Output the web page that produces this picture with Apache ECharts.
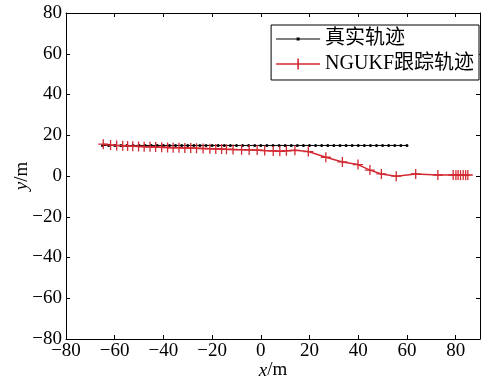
<!DOCTYPE html>
<html>
<head>
<meta charset="utf-8">
<script src="https://cdn.jsdelivr.net/npm/echarts@6/dist/echarts.min.js"></script>
<style>html,body{margin:0;padding:0;background:#fff;}#c{width:481px;height:381px;}</style>
</head>
<body>
<div id="c"></div>
<script>
var trueName = '真实轨迹';
var trackName = 'NGUKF跟踪轨迹';
var trueX = [-65,-62.5,-60,-57.5,-55,-52.5,-50,-47.5,-45,-42.5,-40,-37.5,-35,-32.5,-30,-27.5,-25,-22.5,-20,-17.5,-15,-12.5,-10,-7.5,-5,-2.5,0,2.5,5,7.5,10,12.5,15,17.5,20,22.5,25,27.5,30,32.5,35,37.5,40,42.5,45,47.5,50,52.5,55,57.5,60];
var trueY = [15,15,15,15,15,15,15,15,15,15,15,15,15,15,15,15,15,15,15,15,15,15,15,15,15,15,15,15,15,15,15,15,15,15,15,15,15,15,15,15,15,15,15,15,15,15,15,15,15,15,15];
var trackX = [-64.7,-61.7,-59.2,-56.7,-54.7,-52.6,-50.2,-47.9,-45.5,-43.2,-40.7,-38.3,-36,-33.6,-31.2,-28.8,-26.4,-23.7,-20.9,-18.5,-16.1,-14.1,-11.4,-7.9,-4.8,-1.5,1.6,5.1,7.8,10.5,14,19.5,26.7,33.5,39.9,44.8,49.5,55.6,63.6,72.7,79,80.1,81,82,83.1,84.1,85];
var trackY = [15.6,15.2,15.0,14.9,14.7,14.6,14.5,14.4,14.3,14.2,14.1,14.0,13.9,13.9,13.8,13.7,13.6,13.5,13.4,13.3,13.2,13.1,13.0,12.9,12.8,12.7,12.5,12.3,12.1,12.4,12.6,12.0,9.2,6.9,5.6,2.9,1.0,-0.1,1.0,0.5,0.5,0.4,0.5,0.4,0.5,0.4,0.5];
var xTicks = [-80,-60,-40,-20,0,20,40,60,80];
var yTicks = [-80,-60,-40,-20,0,20,40,60,80];

function pairs(xs, ys){ var o=[]; for(var i=0;i<xs.length;i++){o.push([xs[i],ys[i]]);} return o; }
var FONT = '"Liberation Serif","DejaVu Serif","Noto Sans CJK SC",serif';
function fmt(ticks){ return function(v){ return ticks.indexOf(v) >= 0 ? String(v).replace('-', '\u2212') : ''; }; }
var red = '#d22a32';
var plus = 'path://M5,0L5,10M0,5L10,5';
var iconBlack = 'path://M0,5L44,5L44,6L0,6Z M20.5,4L23.5,4L23.5,7L20.5,7Z';
var iconRed = 'path://M0,4.8L44,4.8L44,6.2L0,6.2Z M21.2,0L22.8,0L22.8,11L21.2,11Z';

var chart = echarts.init(document.getElementById('c'), null, {renderer:'canvas'});
chart.setOption({
  animation: false,
  backgroundColor: '#fff',
  grid: {left: 66, right: 1, top: 13, bottom: 42, outerBoundsMode: 'none', containLabel: false},
  legend: {
    orient: 'vertical', right: 2, top: 25,
    backgroundColor: '#fff', borderColor: '#000', borderWidth: 1,
    padding: [4, 5, 6, 5], itemGap: 5, itemWidth: 44, itemHeight: 11,
    itemStyle: {borderWidth: 0},
    textStyle: {fontFamily: FONT, fontSize: 20, color: '#000'},
    data: [{name: trueName, icon: iconBlack}, {name: trackName, icon: iconRed}]
  },
  xAxis: [{
    type: 'value', min: -80, max: 90, interval: 20, position: 'bottom',
    axisLine: {show: true, onZero: false, lineStyle: {color: '#000', width: 1}},
    axisTick: {show: true, inside: true, length: 4, lineStyle: {color: '#000'}},
    axisLabel: {formatter: fmt(xTicks), fontFamily: FONT, fontSize: 19, color: '#000', margin: 3},
    splitLine: {show: false},
    name: '{i|x}/m', nameLocation: 'middle', nameGap: 22, nameMoveOverlap: false,
    nameTextStyle: {fontFamily: FONT, fontSize: 19, color: '#000', rich: {i: {fontFamily: FONT, fontSize: 19, fontStyle: 'italic', color: '#000'}}}
  }, {
    type: 'value', min: -80, max: 90, interval: 20, position: 'top',
    axisLine: {show: true, onZero: false, lineStyle: {color: '#000', width: 1}},
    axisTick: {show: true, inside: true, length: 4, lineStyle: {color: '#000'}},
    axisLabel: {show: false}, splitLine: {show: false}
  }],
  yAxis: [{
    type: 'value', min: -80, max: 80, interval: 20, position: 'left',
    axisLine: {show: true, onZero: false, lineStyle: {color: '#000', width: 1}},
    axisTick: {show: true, inside: true, length: 4, lineStyle: {color: '#000'}},
    axisLabel: {formatter: fmt(yTicks), fontFamily: FONT, fontSize: 19, color: '#000', margin: 4},
    splitLine: {show: false},
    name: '{i|y}/m', nameLocation: 'middle', nameGap: 34, nameMoveOverlap: false,
    nameTextStyle: {fontFamily: FONT, fontSize: 19, color: '#000', rich: {i: {fontFamily: FONT, fontSize: 19, fontStyle: 'italic', color: '#000'}}}
  }, {
    type: 'value', min: -80, max: 80, interval: 20, position: 'right',
    axisLine: {show: true, onZero: false, lineStyle: {color: '#000', width: 1}},
    axisTick: {show: true, inside: true, length: 4, lineStyle: {color: '#000'}},
    axisLabel: {show: false}, splitLine: {show: false}
  }],
  series: [{
    name: trueName, type: 'line', data: pairs(trueX, trueY),
    symbol: 'circle', symbolSize: 3, showAllSymbol: true,
    lineStyle: {color: '#000', width: 1},
    itemStyle: {color: '#000'}
  }, {
    name: trackName, type: 'line', data: pairs(trackX, trackY),
    symbol: plus, symbolSize: 10, showAllSymbol: true,
    lineStyle: {color: red, width: 1.5},
    itemStyle: {color: red, borderColor: red, borderWidth: 1.3}
  }]
});
</script>
</body>
</html>
